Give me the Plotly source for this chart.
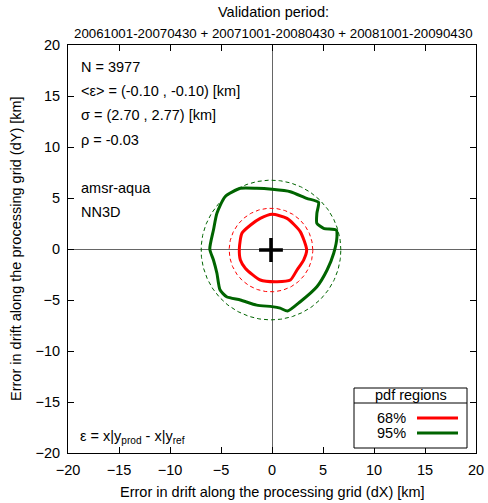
import numpy as np
import plotly.graph_objects as go

# ---- data ----
c68_x = [0.0, 1.47, 2.77, 3.4, 3.1, 2.45, 1.8, 0.5, -1.15, -2.6, -3.1, -3.2, -2.95, -2.1, -1.15, 0.0]
c68_y = [3.4, 3.0, 1.7, -0.1, -1.08, -2.06, -3.04, -3.2, -3.04, -1.9, -1.08, 0.07, 1.54, 2.35, 3.0, 3.4]

c95_x = [-6.1, -5.74, -5.4, -4.6, -3.1, -1.5, 0.0, 1.8, 3.4, 4.56, 4.4, 4.4, 5.06, 6.3, 6.37, 6.05,
         5.4, 4.4, 2.77, 1.53, 0.8, 0.0, -1.5, -3.1, -4.45, -5.1, -5.4, -5.74, -6.1]
c95_y = [0.0, 1.86, 3.5, 5.13, 5.95, 5.95, 5.85, 5.62, 4.97, 4.58, 3.5, 2.52, 2.03, 1.86, 1.2, -0.42,
         -2.06, -3.7, -5.17, -6.08, -5.8, -5.65, -5.5, -5.0, -4.68, -4.0, -2.38, -1.08, 0.0]

mean_err = [-0.10, -0.10]
sigma = [2.70, 2.77]
circle_r = {"68%": 4.1, "95%": 6.85}
colors = {"68%": "#ff0000", "95%": "#006400"}

stats_lines = ["N = 3977", "<ε> = (-0.10 , -0.10) [km]", "σ = (2.70 , 2.77) [km]", "ρ = -0.03",
               "", "amsr-aqua", "NN3D"]

tick_vals = [-20, -15, -10, -5, 0, 5, 10, 15, 20]

FONT = "Liberation Sans, Arial, Helvetica, sans-serif"
FS = 14.5

# plot area in pixels
L, R, T, B = 68, 476, 45, 453
W, H = 488, 503
PW, PH = R - L, B - T


def px2paper(xp, yp):
    return (xp - L) / PW, 1 - (yp - T) / PH


fig = go.Figure()

theta = np.linspace(0, 2 * np.pi, 361)
for key in ["68%", "95%"]:
    r = circle_r[key]
    fig.add_trace(go.Scatter(x=mean_err[0] + r * np.cos(theta), y=mean_err[1] + r * np.sin(theta),
                             mode="lines", line=dict(color=colors[key], width=1, dash="4px,3px"),
                             showlegend=False, hoverinfo="skip"))

fig.add_trace(go.Scatter(x=c68_x, y=c68_y, mode="lines",
                         line=dict(color=colors["68%"], width=3, shape="spline", smoothing=0.6),
                         showlegend=False))
fig.add_trace(go.Scatter(x=c95_x, y=c95_y, mode="lines",
                         line=dict(color=colors["95%"], width=3, shape="spline", smoothing=0.6),
                         showlegend=False))

fig.add_trace(go.Scatter(x=[mean_err[0]], y=[mean_err[1]], mode="markers",
                         marker=dict(symbol="cross-thin", size=17, line=dict(color="black", width=3.5)),
                         showlegend=False))

axis_common = dict(range=[-20, 20], tickvals=tick_vals, ticks="inside", ticklen=6, tickcolor="black",
                   showline=True, linecolor="black", linewidth=1, mirror="ticks", showgrid=False,
                   zeroline=True, zerolinecolor="#666666", zerolinewidth=1, automargin=False,
                   tickfont=dict(family=FONT, size=FS, color="black"))

fig.update_layout(
    width=W, height=H,
    margin=dict(l=L, r=W - R, t=T, b=H - B, autoexpand=False),
    plot_bgcolor="white", paper_bgcolor="white",
    font=dict(family=FONT, size=FS, color="black"),
    xaxis=dict(**axis_common, ticklabelstandoff=4),
    yaxis=dict(**axis_common, ticklabelstandoff=4),
    showlegend=False,
)

# axis titles
ax, ay = px2paper((L + R) / 2, 492)
fig.add_annotation(text="Error in drift along the processing grid (dX) [km]", xref="paper", yref="paper",
                   x=ax, y=ay, xanchor="center", yanchor="middle", showarrow=False,
                   font=dict(family=FONT, size=FS))
ax, ay = px2paper(16, (T + B) / 2)
fig.add_annotation(text="Error in drift along the processing grid (dY) [km]", xref="paper", yref="paper",
                   x=ax, y=ay, xanchor="center", yanchor="middle", textangle=-90, showarrow=False,
                   font=dict(family=FONT, size=FS))

# title
ax, ay = px2paper(273, 12)
fig.add_annotation(text="Validation period:", xref="paper", yref="paper", x=ax, y=ay,
                   showarrow=False, font=dict(family=FONT, size=FS), xanchor="center", yanchor="middle")
ax, ay = px2paper(273, 33)
fig.add_annotation(text="20061001-20070430 + 20071001-20080430 + 20081001-20090430", xref="paper", yref="paper",
                   x=ax, y=ay, showarrow=False, font=dict(family=FONT, size=13.3),
                   xanchor="center", yanchor="middle")

# stats text
y0 = 67
for i, line in enumerate(stats_lines):
    if not line:
        continue
    ax, ay = px2paper(79, y0 + i * 24.2)
    fig.add_annotation(text=line, xref="paper", yref="paper", x=ax, y=ay,
                       xanchor="left", yanchor="middle", showarrow=False, font=dict(family=FONT, size=FS))

ax, ay = px2paper(78, 437)
fig.add_annotation(text="ε = x|y<sub>prod</sub> - x|y<sub>ref</sub>", xref="paper", yref="paper",
                   x=ax, y=ay, xanchor="left", yanchor="middle",
                   showarrow=False, font=dict(family=FONT, size=FS))

# legend box (custom, gnuplot style)
bx0, by0 = px2paper(354, 388)
bx1, by1 = px2paper(467, 448)
_, bys = px2paper(0, 403)
fig.add_shape(type="rect", xref="paper", yref="paper", x0=bx0, y0=by0, x1=bx1, y1=by1,
              line=dict(color="black", width=1), fillcolor="white")
fig.add_shape(type="line", xref="paper", yref="paper", x0=bx0, y0=bys, x1=bx1, y1=bys,
              line=dict(color="black", width=1))
tx, ty = px2paper(410.5, 395)
fig.add_annotation(text="pdf regions", xref="paper", yref="paper", x=tx, y=ty, showarrow=False,
                   font=dict(family=FONT, size=FS), xanchor="center", yanchor="middle")
for i, key in enumerate(["68%", "95%"]):
    yp = 418 + i * 15
    lx, ly = px2paper(408, yp)
    fig.add_annotation(text=key, xref="paper", yref="paper", x=lx, y=ly, xanchor="right", yanchor="middle",
                       showarrow=False, font=dict(family=FONT, size=FS))
    sx0, sy = px2paper(417, yp)
    sx1, _ = px2paper(458, yp)
    fig.add_shape(type="line", xref="paper", yref="paper", x0=sx0, y0=sy, x1=sx1, y1=sy,
                  line=dict(color=colors[key], width=3))

fig.write_html("out.html")
